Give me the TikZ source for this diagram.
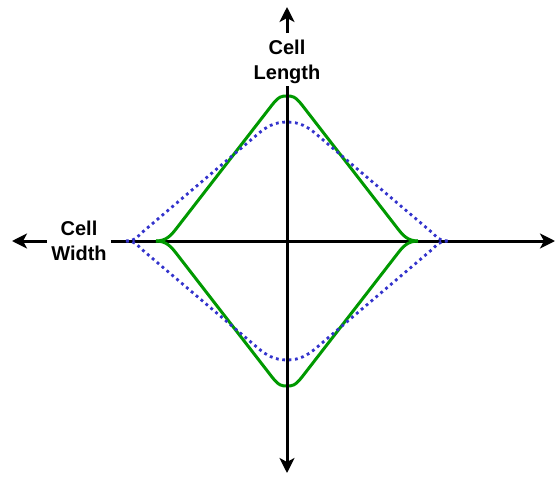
\documentclass[tikz,border=0pt]{standalone}
\usepackage{fontspec}
\setmainfont{Liberation Sans}
\usetikzlibrary{arrows.meta}
\definecolor{cgreen}{RGB}{0,153,0}
\definecolor{cblue}{RGB}{51,51,204}
\begin{document}
\begin{tikzpicture}[x=1pt,y=-1pt,
 axis/.style={line width=3pt, -{Stealth[length=15pt,width=15pt,inset=4pt]}},
 lbl/.style={font=\fontsize{20}{25}\selectfont\bfseries, align=center, inner sep=4pt},
 gcurve/.style={cgreen, line width=3pt},
 bcurve/.style={cblue, line width=2.8pt, dash pattern=on 2.8pt off 3.6pt}]
\useasboundingbox (0,0) rectangle (556,479);
\coordinate (L) at (12,241);
\coordinate (R) at (555,241);
\coordinate (T) at (287,7);
\coordinate (B) at (287,473);
\node[lbl] (wl) at (79,241) {Cell\\Width};
\node[lbl] (ll) at (287,62.3) {Cell\\Length};
\draw[axis] (wl.east) -- (R);
\draw[axis] (wl.west) -- (L);
% green
\draw[gcurve] (156,241) .. controls (166,241) and (171,235.5) .. (176,229) -- (272,105) .. controls (279,96) and (282,96) .. (287,96) .. controls (292,96) and (295,96) .. (302,105) -- (398,229) .. controls (403,235.5) and (408,241) .. (418,241);
\draw[gcurve] (156,241) .. controls (166,241) and (171,246.5) .. (176,253) -- (272,377) .. controls (279,386) and (282,386) .. (287,386) .. controls (292,386) and (295,386) .. (302,377) -- (398,253) .. controls (403,246.5) and (408,241) .. (418,241);
% blue
\draw[bcurve] (126,241) .. controls (136,241) and (138,235.9) .. (142,232.5) -- (258,133.9) .. controls (266,127.1) and (274,122) .. (287,122) .. controls (300,122) and (308,127.1) .. (316,133.9) -- (432,232.5) .. controls (436,235.9) and (438,241) .. (448,241);
\draw[bcurve] (126,241) .. controls (136,241) and (138,246.1) .. (142,249.5) -- (258,348.1) .. controls (266,354.9) and (274,360) .. (287,360) .. controls (300,360) and (308,354.9) .. (316,348.1) -- (432,249.5) .. controls (436,246.1) and (438,241) .. (448,241);
\draw[axis] ([yshift=3pt]ll.north) -- (T);
\draw[axis] ([yshift=2pt]ll.south) -- (B);
\end{tikzpicture}
\end{document}
